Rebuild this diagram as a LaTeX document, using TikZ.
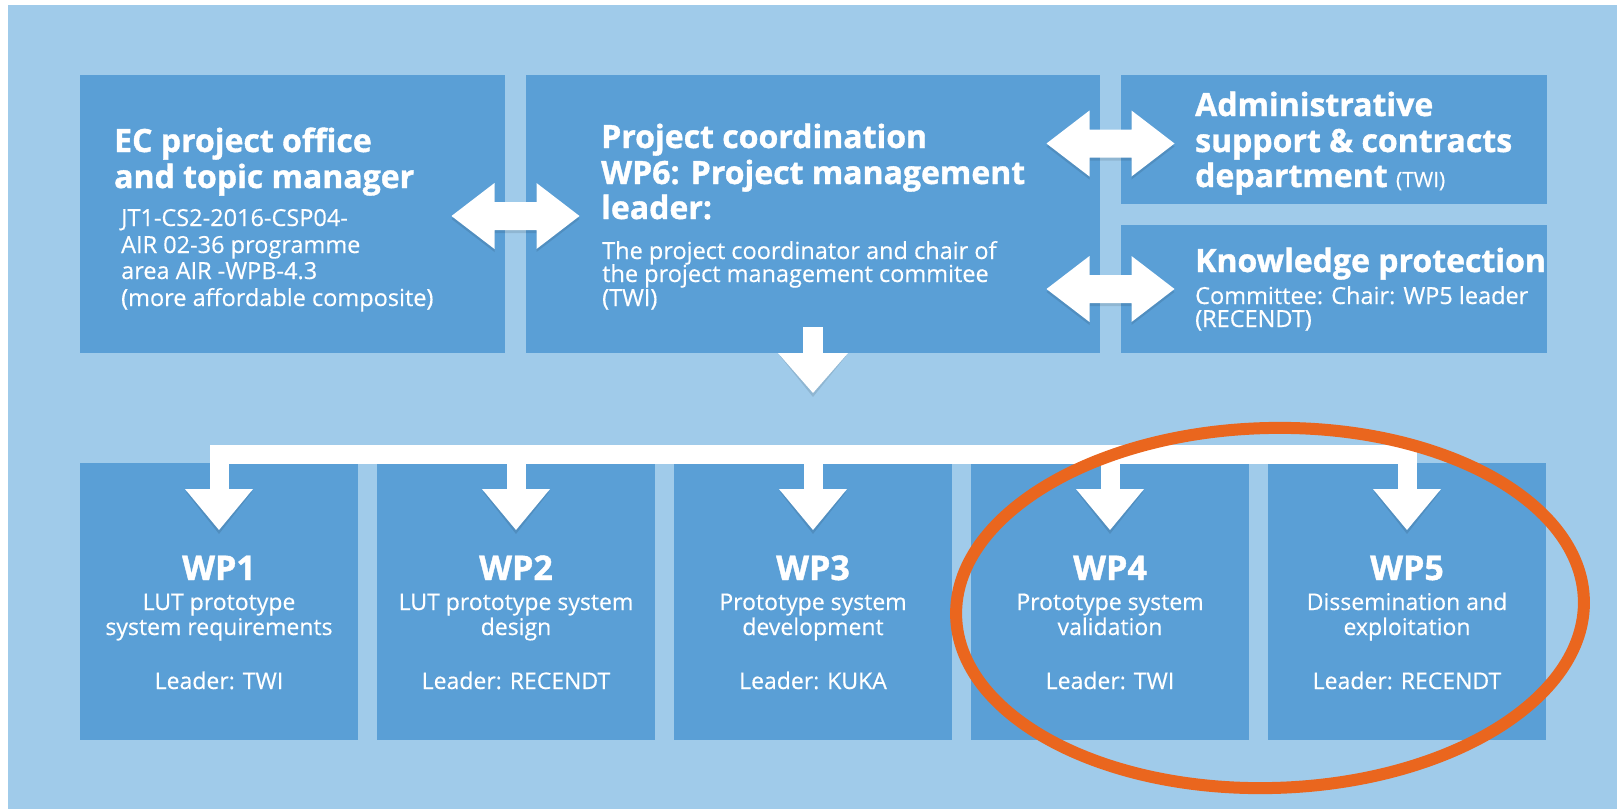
\documentclass[tikz,border=0pt]{standalone}
\usepackage{fontspec}
\setmainfont{Open Sans}
\newfontfamily\heavyfont{Open Sans}[BoldFeatures={FakeBold=1.2}]
\newfontfamily\bodyfont{Open Sans}[FakeBold=0.4]
\usetikzlibrary{calc}
\definecolor{bgblue}{RGB}{160,203,234}
\definecolor{boxblue}{RGB}{90,159,214}
\definecolor{ringorange}{RGB}{234,102,30}
\tikzset{
  box/.style={rectangle, fill=boxblue, draw=none, inner sep=0pt, outer sep=0pt},
  ttl/.style={anchor=base west, inner sep=0pt, text=white, font=\heavyfont\fontsize{32}{32}\selectfont\bfseries},
  bdy/.style={anchor=base west, inner sep=0pt, text=white, font=\bodyfont\fontsize{23.5}{23.5}\selectfont},
  wpttl/.style={anchor=base, inner sep=0pt, text=white, font=\heavyfont\fontsize{34}{34}\selectfont\bfseries},
  wpbdy/.style={anchor=base, inner sep=0pt, text=white, font=\bodyfont\fontsize{23}{23}\selectfont},
  trunk/.style={draw=white, line width=19pt, line join=miter},
  headfill/.style={fill=white},
  shade/.style={fill=black, opacity=0.10},
  ring/.style={draw=ringorange, line width=12pt},
  dblarrow/.pic={\path[pic actions] (-64,0) -- (-21,-33) -- (-21,-14) -- (21,-14) -- (21,-33) -- (64,0) -- (21,33) -- (21,14) -- (-21,14) -- (-21,33) -- cycle;}
}
\begin{document}
\begin{tikzpicture}[x=1pt,y=-1pt]
\useasboundingbox (0,0) rectangle (1617,809);
\fill[white] (0,0) rectangle (1617,809);
\fill[bgblue] (8,5) rectangle (1617,809);

% top row boxes
\node[box, minimum width=425pt, minimum height=278pt] (ec) at (292.5,214) {};
\node[box, minimum width=574pt, minimum height=278pt] (pc) at (813,214) {};
\node[box, minimum width=426pt, minimum height=129pt] (adm) at (1334,139.5) {};
\node[box, minimum width=426pt, minimum height=128pt] (kp) at (1334,289) {};

% bottom row boxes
\foreach \i/\cx in {1/219,2/516,3/813,4/1110,5/1407}
  \node[box, minimum width=278pt, minimum height=277pt] (wp\i) at (\cx,601.5) {};

% EC text
\node[ttl] (ec1) at ($(ec.north west)+(34,77)$) {EC project office};
\node[ttl] (ec2) at ($(ec.north west)+(34,113)$) {and topic manager};
\node[bdy] (ec3) at ($(ec.north west)+(41,151)$) {JT1-CS2-2016-CSP04-};
\node[bdy] (ec4) at ($(ec.north west)+(41,178)$) {AIR 02-36 programme};
\node[bdy] (ec5) at ($(ec.north west)+(41,204)$) {area AIR -WPB-4.3};
\node[bdy] (ec6) at ($(ec.north west)+(41,231)$) {(more affordable composite)};

% PC text
\node[ttl] (pc1) at ($(pc.north west)+(75,73)$) {Project coordination};
\node[ttl] (pc2) at ($(pc.north west)+(75,109)$) {WP6: Project management};
\node[ttl] (pc3) at ($(pc.north west)+(75,144)$) {leader:};
\node[bdy] (pc4) at ($(pc.north west)+(76,184)$) {The project coordinator and chair of};
\node[bdy] (pc5) at ($(pc.north west)+(76,207)$) {the project management commitee};
\node[bdy] (pc6) at ($(pc.north west)+(76,231)$) {(TWI)};

% Admin text
\node[ttl] (ad1) at ($(adm.north west)+(74,41)$) {Administrative};
\node[ttl] (ad2) at ($(adm.north west)+(74,77)$) {support \& contracts};
\node[ttl] (ad3) at ($(adm.north west)+(74,112)$) {department {\bodyfont\mdseries\fontsize{21}{21}\selectfont (TWI)}};

% Knowledge text
\node[ttl] (kp1) at ($(kp.north west)+(74,47)$) {Knowledge protection};
\node[bdy] (kp2) at ($(kp.north west)+(74,79)$) {Committee: Chair: WP5 leader};
\node[bdy] (kp3) at ($(kp.north west)+(74,102)$) {(RECENDT)};

% WP texts
\foreach \i/\a/\b/\c in {1/LUT prototype/system requirements/TWI,
                         2/LUT prototype system/design/RECENDT,
                         3/Prototype system/development/KUKA,
                         4/Prototype system/validation/TWI,
                         5/Dissemination and/exploitation/RECENDT}{
  \node[wpttl] (wpt\i) at ($(wp\i.north)+(0,117)$) {WP\i};
  \node[wpbdy] (wpa\i) at ($(wp\i.north)+(0,147)$) {\a};
  \node[wpbdy] (wpb\i) at ($(wp\i.north)+(0,172)$) {\b};
  \node[wpbdy] (wpc\i) at ($(wp\i.north)+(0,226)$) {Leader: \c};
}

% double arrows
\coordinate (m1) at ($($(ec.east)!.5!(pc.west)$)+(0,2)$);
\coordinate (m2) at ($($(pc.east|-adm.west)!.5!(adm.west)$)+(0,4)$);
\coordinate (m3) at ($(pc.east|-kp.west)!.5!(kp.west)$);
\foreach \m in {m1,m2,m3} \pic[shade] at ($(\m)+(0,3)$) {dblarrow};
\foreach \m in {m1,m2,m3} \pic[fill=white] at (\m) {dblarrow};

% down arrow from project coordination
\fill[shade] ($(pc.south)+(-33,3)$) -- ($(pc.south)+(33,3)$) -- ($(pc.south)+(0,44)$) -- cycle;
\fill[white] ($(pc.south)+(-10,-26)$) rectangle ($(pc.south)+(10,1)$);
\fill[white] ($(pc.south)+(-35,0)$) -- ($(pc.south)+(35,0)$) -- ($(pc.south)+(0,40)$) -- cycle;

% distribution trunk to work packages
\foreach \i in {1,...,5}
  \fill[shade] ($(wp\i.north)+(-33,29)$) -- ($(wp\i.north)+(33,29)$) -- ($(wp\i.north)+(0,71)$) -- cycle;
\draw[trunk] ($(wp1.north)+(0,27)$) -- ($(wp1.north)+(0,-9)$) -- ($(wp5.north)+(0,-9)$) -- ($(wp5.north)+(0,27)$);
\foreach \i in {2,3,4}
  \draw[trunk] ($(wp\i.north)+(0,-9)$) -- ($(wp\i.north)+(0,27)$);
\foreach \i in {1,...,5}
  \fill[headfill] ($(wp\i.north)+(-34,26)$) -- ($(wp\i.north)+(34,26)$) -- ($(wp\i.north)+(0,67)$) -- cycle;

% orange highlight ring
\draw[ring, rotate around={1.5:(1270,608)}] (1270,608) ellipse [x radius=314pt, y radius=180pt];
\end{tikzpicture}
\end{document}
